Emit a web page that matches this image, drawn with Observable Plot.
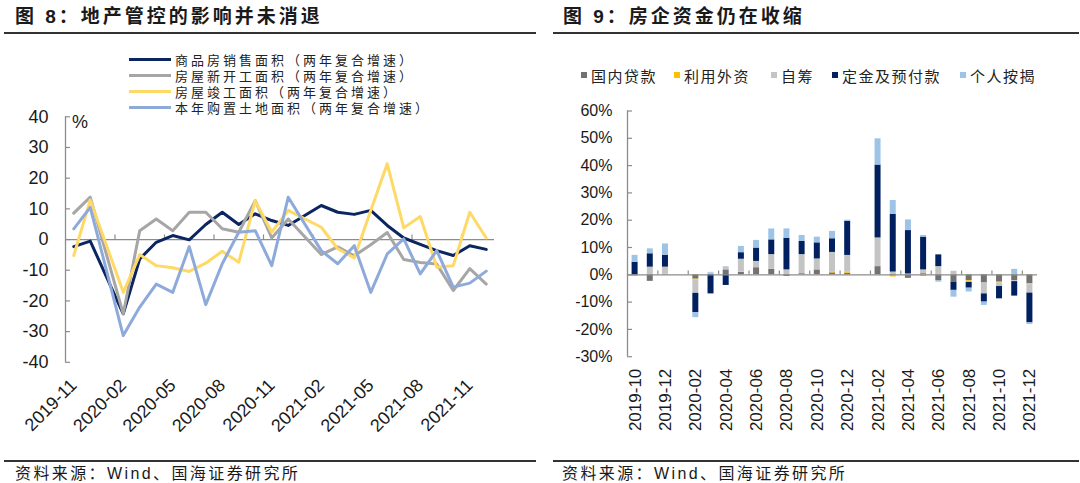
<!DOCTYPE html>
<html><head><meta charset="utf-8">
<script src="https://cdn.jsdelivr.net/npm/d3@7"></script>
<script src="https://cdn.jsdelivr.net/npm/@observablehq/plot@0.6"></script>
<style>
html,body{margin:0;padding:0;background:#fff;}
#root{position:relative;width:1080px;height:483px;overflow:hidden;font-family:"Liberation Sans","Noto Sans CJK SC",sans-serif;color:#1a1a1a;}
.abs{position:absolute;white-space:nowrap;}
.title{font-weight:bold;font-size:19px;line-height:19px;letter-spacing:3px;font-family:"Liberation Sans","Noto Sans CJK SC",sans-serif;}
.rule{position:absolute;height:2px;background:#333;}
.src{font-size:16px;line-height:18px;letter-spacing:2.4px;}
.leg{font-size:13px;line-height:13px;letter-spacing:3px;font-family:"Noto Sans CJK SC",sans-serif;color:#222;}
svg{position:absolute;top:0;}
</style></head><body><div id="root"></div>
<script>
// ---------- Figure 8 data (two-year compound growth, %) ----------
const lineMonths = ["2019-11","2019-12","2020-01","2020-02","2020-03","2020-04","2020-05","2020-06","2020-07","2020-08","2020-09","2020-10","2020-11","2020-12","2021-01","2021-02","2021-03","2021-04","2021-05","2021-06","2021-07","2021-08","2021-09","2021-10","2021-11","2021-12"];
const salesArea    = [-2.3,-0.5,null,-24.2,-6.3,-0.9,1.3,-0.1,4.9,8.9,4.9,8.4,6.2,4.6,null,11.1,8.9,8.2,9.5,4.6,0.5,-1.6,-3.6,-5.2,-2.0,-3.2];
const newStarts    = [8.6,13.8,null,-24.2,2.9,6.7,2.9,8.9,8.9,3.5,2.4,12.7,0.5,6.7,null,-4.9,-2.4,-5.3,-1.7,2.3,-6.5,-7.5,-8.0,-16.6,-9.5,-14.5];
const completions  = [-5.2,12.9,null,-17.2,-4.9,-8.5,-9.2,-10.4,-7.7,-3.8,-7.4,12.7,2.4,9.5,null,4.0,-3.0,-6.0,9.5,24.7,3.8,7.5,-9.0,-8.5,8.9,0.5];
const landPurchase = [3.5,10.5,null,-31.3,-22.0,-14.5,-17.2,-2.3,-21.2,-7.9,2.4,2.9,-8.5,13.8,null,-3.6,-7.9,-2.0,-17.2,-4.7,0.2,-11.2,-3.6,-15.5,-14.2,-10.3];
const lineSeries = ["商品房销售面积（两年复合增速）","房屋新开工面积（两年复合增速）","房屋竣工面积（两年复合增速）","本年购置土地面积（两年复合增速）"];
const lineColors = ["#0b2560","#a6a6a6","#ffd966","#8eaadb"];
const leftYTicks = [40,30,20,10,0,-10,-20,-30,-40];
const leftXTickLabels = ["2019-11","2020-02","2020-05","2020-08","2020-11","2021-02","2021-05","2021-08","2021-11"];

// ---------- Figure 9 data (% contribution) ----------
const barMonths = ["2019-10","2019-11","2019-12","2020-01","2020-02","2020-03","2020-04","2020-05","2020-06","2020-07","2020-08","2020-09","2020-10","2020-11","2020-12","2021-01","2021-02","2021-03","2021-04","2021-05","2021-06","2021-07","2021-08","2021-09","2021-10","2021-11","2021-12"];
const domesticLoans  = [-0.3,-2.4,0.2,null,-1.6,0,1.8,0.9,2.6,2.0,-0.6,0.4,1.8,0.7,0.6,null,3.0,-0.3,-1.3,0.4,-2.1,-2.7,-2.1,-3.0,-2.7,-2.2,-3.3];
const foreignCapital = [-0.3,0,0,null,-0.2,0,0,0.2,0,0,0,0,0,0.2,0.3,null,0,-0.5,0,-0.6,0,0,-0.3,0,-0.3,0,-0.3];
const selfRaised     = [0,2.8,2.6,null,-5.0,0.6,1.0,4.6,2.3,5.4,1.8,7.0,4.0,7.3,6.2,null,10.5,1.0,0.3,1.4,3.0,1.3,-0.4,-4.0,-1.3,-0.3,-3.1];
const deposits       = [4.6,4.9,4.3,null,-7.1,-7.0,-3.9,2.4,4.9,5.4,11.6,4.8,5.9,5.0,12.5,null,26.7,21.1,15.9,12.0,4.3,-3.0,-2.1,-3.0,-4.5,-5.3,-10.9];
const mortgages      = [2.5,1.8,4.2,null,-1.8,0.3,0.2,2.3,2.8,4.0,3.4,2.2,2.1,2.7,0.4,null,9.6,5.1,3.9,0.6,-0.6,-2.5,-1.4,-1.2,0,2.0,-0.6];
const barSeries = ["国内贷款","利用外资","自筹","定金及预付款","个人按揭"];
const barColors = ["#767171","#ffc000","#c4c4c4","#002060","#9dc3e6"];
const rightYTicks = [60,50,40,30,20,10,0,-10,-20,-30];
const barTickLabels = ["2019-10","2019-12","2020-02","2020-04","2020-06","2020-08","2020-10","2020-12","2021-02","2021-04","2021-06","2021-08","2021-10","2021-12"];

const root = document.getElementById("root");
function add(html){ root.insertAdjacentHTML("beforeend", html); }

// titles, rules, sources
add(`<div class="abs title" style="left:15px;top:7px">图 8：地产管控的影响并未消退</div>`);
add(`<div class="abs title" style="left:563px;top:7px">图 9：房企资金仍在收缩</div>`);
add(`<div class="rule" style="left:4px;top:32px;width:532px"></div>`);
add(`<div class="rule" style="left:553px;top:32px;width:526px"></div>`);
add(`<div class="rule" style="left:4px;top:460px;width:532px"></div>`);
add(`<div class="rule" style="left:553px;top:460px;width:526px"></div>`);
add(`<div class="abs src" style="left:15px;top:465px">资料来源：Wind、国海证券研究所</div>`);
add(`<div class="abs src" style="left:562px;top:465px">资料来源：Wind、国海证券研究所</div>`);

// ---------- left chart ----------
const allLine = [salesArea,newStarts,completions,landPurchase];
const lineRows = [];
allLine.forEach((arr,k)=>arr.forEach((v,i)=>{ if(v!=null) lineRows.push({i, v, s: lineSeries[k]}); }));
const leftTickIdx = leftXTickLabels.map(m=>lineMonths.indexOf(m));
const leftBoundaries = leftTickIdx.map(i=>i-0.5).filter(b=>b>-0.5);
const axisCol = "#8c8c8c";

const left = Plot.plot({
  width:540, height:460,
  marginLeft:65, marginRight:46, marginTop:116.3, marginBottom:98.2,
  style:{fontFamily:"Liberation Sans, Arial, sans-serif", color:"#1a1a1a", background:"transparent", overflow:"visible"},
  x:{type:"linear", domain:[-0.5, lineMonths.length-0.5], axis:null},
  y:{domain:[-40,40], axis:null},
  color:{domain:lineSeries, range:lineColors},
  marks:[
    Plot.ruleY([0], {stroke:axisCol, strokeWidth:1.3}),
    Plot.ruleX(leftBoundaries, {x:d=>d, y1:0, y2:1.5, stroke:axisCol, strokeWidth:1.2}),
    Plot.ruleX([-0.5], {y1:-40, y2:40, stroke:axisCol, strokeWidth:1.3}),
    Plot.ruleY(leftYTicks, {y:d=>d, x1:-0.5, x2:-0.2, stroke:axisCol, strokeWidth:1.2}),
    Plot.axisY({ticks:leftYTicks, tickSize:0, tickPadding:17, fontSize:18, label:null, tickFormat:d=>String(d)}),
    Plot.axisX({ticks:leftTickIdx, tickFormat:i=>lineMonths[i], tickRotate:-45, tickSize:0, tickPadding:20, fontSize:18, label:null}),
    Plot.line(lineRows, {x:"i", y:"v", z:"s", stroke:"s", strokeWidth:3, strokeLinejoin:"round"})
  ]
});
left.style.left = "0px";
root.appendChild(left);

add(`<div class="abs" style="left:72px;top:112px;font-size:18px;line-height:20px">%</div>`);
const legY = [59, 75.2, 91.4, 107.6];
lineSeries.forEach((s,k)=>{
  add(`<div class="abs" style="left:129px;top:${legY[k]-1.5}px;width:42px;height:3px;background:${lineColors[k]}"></div>`);
  add(`<div class="abs leg" style="left:175px;top:${legY[k]-6.5}px">${s}</div>`);
});

// ---------- right chart ----------
const allBar = [domesticLoans,foreignCapital,selfRaised,deposits,mortgages];
const barRows = [];
barMonths.forEach((m,j)=>allBar.forEach((arr,k)=>{ const v=arr[j]; if(v!=null) barRows.push({j, v, s: barSeries[k]}); }));
const rightTicks = barTickLabels.map(m=>barMonths.indexOf(m)+0.5);
const rightBoundaries = barTickLabels.map(m=>barMonths.indexOf(m)).filter(b=>b>0);

const right = Plot.plot({
  width:540, height:460,
  marginLeft:87, marginRight:43, marginTop:110.5, marginBottom:103.8,
  style:{fontFamily:"Liberation Sans, Arial, sans-serif", color:"#1a1a1a", background:"transparent", overflow:"visible"},
  x:{type:"linear", domain:[0, barMonths.length], axis:null},
  y:{domain:[-30,60], axis:null},
  color:{domain:barSeries, range:barColors},
  marks:[
    Plot.rectY(barRows, Plot.stackY({x:"j", y:"v", fill:"s", interval:1, insetLeft:4.6, insetRight:4.6})),
    Plot.ruleY([0], {stroke:axisCol, strokeWidth:1.3}),
    Plot.ruleX(rightBoundaries, {x:d=>d, y1:0, y2:1.4, stroke:axisCol, strokeWidth:1.2}),
    Plot.ruleX([0], {y1:-30, y2:60, stroke:axisCol, strokeWidth:1.3}),
    Plot.ruleY(rightYTicks, {y:d=>d, x1:0, x2:0.33, stroke:axisCol, strokeWidth:1.2}),
    Plot.axisY({ticks:rightYTicks, tickSize:0, tickPadding:15, fontSize:16, label:null, tickFormat:d=>d+"%"}),
    Plot.axisX({ticks:rightTicks, tickFormat:t=>barMonths[t-0.5], tickRotate:-90, tickSize:0, tickPadding:12, fontSize:17, label:null})
  ]
});
right.style.left = "540px";
root.appendChild(right);

const sqX = [581, 674, 771, 832, 960];
barSeries.forEach((s,k)=>{
  add(`<div class="abs" style="left:${sqX[k]}px;top:71.5px;width:6px;height:6px;background:${barColors[k]}"></div>`);
  add(`<div class="abs leg" style="left:${sqX[k]+10}px;top:67.5px;font-size:15px;line-height:15px;letter-spacing:1.5px">${s}</div>`);
});
</script>
</body></html>
